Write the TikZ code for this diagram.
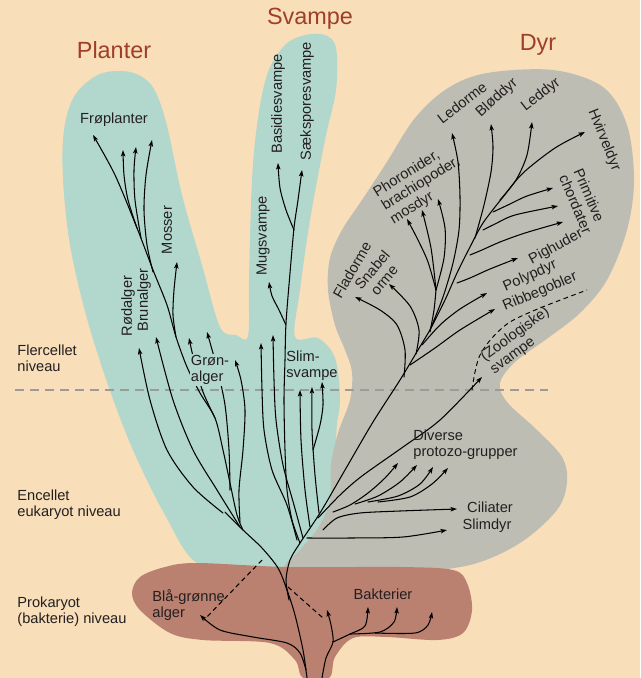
\documentclass[tikz,border=0pt]{standalone}
\usepackage{fontspec}
\setmainfont{Liberation Sans}
\usetikzlibrary{arrows.meta}
\begin{document}
\begin{tikzpicture}[x=0.03cm,y=-0.03cm,
    gren/.style={line width=0.9pt,line cap=round,-{Stealth[length=5.5pt,width=3.8pt,inset=1.2pt]}},
    stamme/.style={line width=0.9pt,line cap=round},
    stiplet/.style={line width=0.9pt,dash pattern=on 4pt off 3pt},
    tekst/.style={text=skrift,font=\fontsize{12.5}{13.5}\selectfont,align=left,inner sep=1pt},
    titel/.style={text=titelrod,font=\fontsize{20}{22}\selectfont}]
    \definecolor{baggrund}{RGB}{248,222,185}
    \definecolor{groen}{RGB}{178,215,205}
    \definecolor{graa}{RGB}{190,189,179}
    \definecolor{brun}{RGB}{186,128,112}
    \definecolor{titelrod}{RGB}{160,62,44}
    \definecolor{skrift}{RGB}{35,31,32}
    \definecolor{niveaulinje}{RGB}{155,155,152}

    \useasboundingbox (0,0) rectangle (640,678);
    \fill[baggrund] (0,0) rectangle (640,678);

    \fill[groen] plot[smooth cycle, tension=0.55] coordinates {(197,563) (165,515) (133,450) (108,385) (86,315) (70,245) (63,180) (64,130) (75,95) (100,74) (130,72) (152,86) (166,122) (182,195) (202,265) (220,327) (236,335) (248,336) (249,280) (252,180) (258,118) (268,72) (285,45) (305,35) (325,35) (336,48) (336,90) (325,140) (310,220) (300,290) (295,337) (318,338) (335,358) (340,400) (336,440) (336,560) (250,568)};
    \fill[graa] plot[smooth cycle, tension=0.55] coordinates {(285,568) (300,550) (318,528) (330,500) (331,465) (338,433) (350,400) (352,372) (345,350) (335,325) (328,290) (330,258) (342,230) (362,200) (385,165) (415,118) (448,88) (487,73) (553,70) (603,87) (627,125) (634,180) (627,230) (607,280) (580,313) (548,338) (515,362) (500,383) (507,402) (537,430) (562,457) (567,482) (557,510) (520,543) (470,565) (400,573) (320,575)};
    \fill[brun] plot[smooth cycle, tension=0.55] coordinates {(197,563) (165,567) (140,577) (132,593) (140,610) (170,633) (203,640) (270,643) (295,660) (303,678) (329,678) (335,657) (353,638) (387,637) (437,640) (463,633) (472,610) (467,583) (453,570) (400,567) (287,567)};
    \fill[brun] (303,670) rectangle (329,678);

    \draw[niveaulinje, line width=1.6pt, dash pattern=on 8pt off 4.8pt] (15,390) -- (548,390);

    \draw[stamme] plot[smooth] coordinates {(307,678) (303,650) (295,615) (287,590) (278,568) (262,548) (243,530) (225,512)};
    \draw[stamme] plot[smooth] coordinates {(289,600) (286,580) (290,560) (300,543) (320,513) (345,470) (373,422) (400,380) (418,350) (430,330)};

    \draw[gren] plot[smooth] coordinates {(430,330) (445,300) (457,273) (470,247) (483,223) (503,197) (523,173) (555,148) (585,132)};
    \draw[gren] plot[smooth] coordinates {(430,330) (443,297) (453,263) (459,230) (460,197) (458,162) (452,133)};
    \draw[gren] plot[smooth] coordinates {(475,238) (484,205) (491,172) (493,147) (491,124)};
    \draw[gren] plot[smooth] coordinates {(500,200) (516,180) (527,155) (532,122)};
    \draw[gren] plot[smooth] coordinates {(493,212) (510,204) (527,196) (553,188)};
    \draw[gren] plot[smooth] coordinates {(483,230) (495,224) (515,215) (558,206)};
    \draw[gren] plot[smooth] coordinates {(470,255) (482,250) (500,242) (525,233) (563,222)};
    \draw[gren] plot[smooth] coordinates {(457,283) (470,278) (490,269) (518,258)};
    \draw[gren] plot[smooth] coordinates {(422,345) (440,325) (460,309) (487,293)};
    \draw[gren] plot[smooth] coordinates {(410,365) (435,348) (460,330) (495,309)};
    \draw[gren] plot[smooth] coordinates {(404,377) (405,350) (397,325) (380,310) (355,297)};
    \draw[gren] plot[smooth] coordinates {(416,354) (419,330) (410,306) (389,284)};
    \draw[stamme] plot[smooth] coordinates {(430,332) (434,310) (436,290)};
    \draw[gren] plot[smooth] coordinates {(436,290) (428,262) (418,240) (407,219)};
    \draw[gren] plot[smooth] coordinates {(436,290) (431,248) (422,210)};
    \draw[gren] plot[smooth] coordinates {(436,290) (444,258) (445,228) (438,199)};
    \draw[gren] plot[smooth] coordinates {(318,518) (340,495) (362,476) (403,447) (440,420) (482,377)};
    \draw[stiplet, line width=0.8pt] plot[smooth] coordinates {(472,390) (475,372) (480,355) (492,338) (510,322) (540,308) (587,290)};
    \draw[gren] plot[smooth] coordinates {(333,512) (350,505) (368,493) (385,478) (398,463)};
    \draw[gren] plot[smooth] coordinates {(355,504) (378,496) (400,482) (417,465)};
    \draw[gren] plot[smooth] coordinates {(368,502) (398,496) (420,484) (433,467)};
    \draw[gren] plot[smooth] coordinates {(378,502) (410,497) (432,484) (448,468)};
    \draw[gren] plot[smooth] coordinates {(323,530) (337,518) (360,513) (400,511) (457,509)};
    \draw[gren] plot[smooth] coordinates {(307,538) (350,538) (403,537) (447,530)};

    \draw[gren] plot[smooth] coordinates {(300,543) (292,520) (287,490) (285,450) (284,400) (285,360) (286,323) (290,273) (294,228) (298,200) (302,170)};
    \draw[gren] plot[smooth] coordinates {(294,230) (286,210) (280,188) (278,163)};
    \draw[gren] plot[smooth] coordinates {(286,325) (279,310) (272,296) (269,282)};
    \draw[gren] plot[smooth] coordinates {(297,540) (287,505) (272,470) (264,430) (262,390) (261,343)};
    \draw[gren] plot[smooth] coordinates {(303,538) (294,505) (283,465) (276,420) (274,380) (273,335)};
    \draw[gren] plot[smooth] coordinates {(310,527) (305,490) (301,440) (300,390)};
    \draw[gren] plot[smooth] coordinates {(319,513) (315,475) (312,430) (312,387)};
    \draw[gren] plot[smooth] coordinates {(313,450) (320,425) (323,405) (322,382)};

    \draw[gren] plot[smooth] coordinates {(223,513) (193,487) (167,450) (150,400) (139,348)};
    \draw[gren] plot[smooth] coordinates {(240,527) (217,490) (193,450) (173,400) (156,337)};
    \draw[gren] plot[smooth] coordinates {(243,530) (237,515) (230,483) (223,450) (215,418) (200,393) (187,367) (176,337) (167,305) (153,270) (137,228) (115,175) (93,135)};
    \draw[gren] plot[smooth] coordinates {(176,337) (173,315) (174,290) (177,262)};
    \draw[gren] plot[smooth] coordinates {(137,228) (128,200) (124,175) (123,150)};
    \draw[gren] plot[smooth] coordinates {(141,238) (135,200) (134,170) (136,147)};
    \draw[gren] plot[smooth] coordinates {(153,272) (147,245) (144,210) (146,175) (152,140)};
    \draw[gren] plot[smooth] coordinates {(215,418) (203,392) (195,365) (189,338)};
    \draw[gren] plot[smooth] coordinates {(230,490) (229,450) (225,405) (217,368) (207,332)};
    \draw[gren] plot[smooth] coordinates {(240,522) (239,490) (243,450) (245,410) (241,380) (235,360)};

    \draw[gren] plot[smooth] coordinates {(306,670) (300,653) (287,643) (253,637) (220,630) (200,615)};
    \draw[stiplet] (262,560) -- (204,620);
    \draw[stiplet] (288,587) -- (323,618);
    \draw[gren] plot[smooth] coordinates {(322,678) (326,658) (333,642) (331,625) (327,610)};
    \draw[gren] plot[smooth] coordinates {(333,642) (350,634) (365,626) (368,607)};
    \draw[gren] plot[smooth] coordinates {(350,634) (380,632) (394,622) (397,607)};
    \draw[gren] plot[smooth] coordinates {(375,633) (415,633) (428,625) (432,612)};

    \node[titel] (planter) at (114,50) {Planter};
    \node[titel] (svampe) at (310,19) {Svampe};
    \node[titel] (dyr) at (538,45) {Dyr};

    \node[tekst] (froplanter) at (114,120) {Frøplanter};
    \node[tekst, rotate=90] (mosser) at (167,230) {Mosser};
    \node[tekst, rotate=90] (rodalger) at (128,306) {Rødalger};
    \node[tekst, rotate=90] (brunalger) at (144,300) {Brunalger};
    \node[tekst, fill=groen] (gronalger) at (210,370) {Grøn-\\alger};
    \node[tekst, rotate=90] (basidie) at (278,104) {Basidiesvampe};
    \node[tekst, rotate=90] (saeksporer) at (307,101) {Sæksporesvampe};
    \node[tekst, rotate=90] (mugsvampe) at (263,236) {Mugsvampe};
    \node[tekst] (slimsvampe) at (312,366) {Slim-\\svampe};

    \node[tekst, rotate=60] (fladorme) at (352,270) {Fladorme};
    \node[tekst, rotate=50, align=center] (snabelorme) at (378,275) {Snabel\\orme};
    \node[tekst, rotate=32] (phoronider) at (421,184) {Phoronider,\\brachiopoder,\\mosdyr};
    \node[tekst, rotate=38] (ledorme) at (462,103) {Ledorme};
    \node[tekst, rotate=42] (bloddyr) at (497,98) {Bløddyr};
    \node[tekst, rotate=38] (leddyr) at (541,95) {Leddyr};
    \node[tekst, rotate=-68] (hvirveldyr) at (604,140) {Hvirveldyr};
    \node[tekst, rotate=-67] (chordater) at (583,201) {Primitive\\chordater};
    \node[tekst, rotate=28] (pighuder) at (556,247) {Pighuder};
    \node[tekst, rotate=24] (polypdyr) at (530,276) {Polypdyr};
    \node[tekst, rotate=23] (ribbegobler) at (540,292) {Ribbegobler};
    \node[tekst, rotate=36] (zoosvampe) at (520,341) {(Zoologiske)\\svampe};
    \node[tekst, anchor=west] (protozo) at (412,445) {Diverse\\protozo-grupper};
    \node[tekst] (ciliater) at (490,507) {Ciliater};
    \node[tekst] (slimdyr) at (487,526) {Slimdyr};
    \node[tekst] (bakterier) at (383,594) {Bakterier};
    \node[tekst, anchor=west] (blaagroenne) at (151,605) {Blå-grønne\\alger};

    \node[tekst, anchor=west] (flercellet) at (16,358) {Flercellet\\niveau};
    \node[tekst, anchor=west] (encellet) at (16,505) {Encellet\\eukaryot niveau};
    \node[tekst, anchor=west] (prokaryot) at (16,612) {Prokaryot\\(bakterie) niveau};
\end{tikzpicture}
\end{document}
